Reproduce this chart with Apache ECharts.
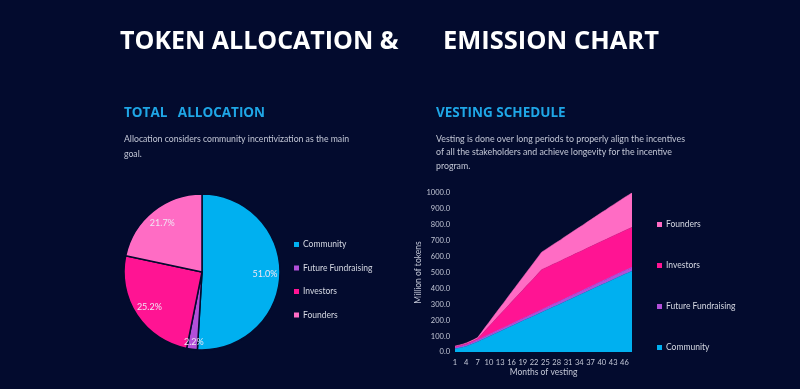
<!DOCTYPE html>
<html>
<head>
<meta charset="utf-8">
<script src="https://cdn.jsdelivr.net/npm/echarts@6/dist/echarts.min.js"></script>
<style>
html,body{margin:0;padding:0;background:#030b2e;}
#chart{width:800px;height:389px;}
</style>
</head>
<body>
<div id="chart"></div>
<script>
// ---- Data ----
const pieNames = ['Community', 'Future Fundraising', 'Investors', 'Founders'];
const pieValues = [51.0, 2.2, 25.2, 21.7];

const months = ['1','2','3','4','5','6','7','8','9','10','11','12','13','14','15','16','17','18','19','20','21','22','23','24','25','26','27','28','29','30','31','32','33','34','35','36','37','38','39','40','41','42','43','44','45','46','47','48'];
const community = [20,25,30,36,45,55,65,76,87,98,109,120,131,141,152,163,174,185,196,207,217,228,239,250,261,272,283,293,304,315,326,337,348,358,369,380,391,402,413,424,434,445,456,467,478,489,499,510];
const futureFundraising = [8,8,9,9,9,10,10,10,11,11,11,12,12,12,13,13,13,14,14,14,15,15,15,16,16,16,17,17,17,18,18,18,19,19,19,20,20,20,21,21,21,22,22,22,22,22,22,22];
const investors = [5,6,6,7,7,7,8,22,37,51,66,80,94,109,123,138,152,166,180,195,209,223,238,252,252,252,252,252,252,252,252,252,252,252,252,252,252,252,252,252,252,252,252,252,252,252,252,252];
const founders = [4,4,4,5,6,6,8,14,20,26,32,38,44,50,56,62,68,74,80,86,92,98,104,110,114,119,123,128,132,137,141,146,150,155,159,164,168,173,177,182,186,191,195,200,204,209,213,217];

const yTicks = {min: 0, max: 1000, interval: 100};

const colors = {
  'Community': '#00b0f0',
  'Future Fundraising': '#b24fd9',
  'Investors': '#ff1493',
  'Founders': '#ff6cc4'
};

const FONT = 'Lato, "Open Sans", sans-serif';
const chart = echarts.init(document.getElementById('chart'));

const pieData = pieNames.map((n, i) => ({name: n, value: pieValues[i], itemStyle: {color: colors[n]}}));

const option = {
  backgroundColor: '#030b2e',
  animation: false,
  textStyle: {fontFamily: FONT},
  graphic: [
    {type: 'text', left: 120, top: 29, style: {text: 'TOKEN ALLOCATION &', fill: '#ffffff', font: 'bold 25px "Open Sans", sans-serif'}},
    {type: 'text', left: 443, top: 29, style: {text: 'EMISSION CHART', fill: '#ffffff', font: 'bold 25.5px "Open Sans", sans-serif'}},
    {type: 'text', left: 124, top: 106, style: {text: 'TOTAL   ALLOCATION', fill: '#1fa6e6', font: 'bold 13.5px "Open Sans", sans-serif'}},
    {type: 'text', left: 436, top: 106, style: {text: 'VESTING SCHEDULE', fill: '#1fa6e6', font: 'bold 13.5px "Open Sans", sans-serif'}},
    {type: 'text', left: 124, top: 132, style: {text: 'Allocation considers community incentivization as the main\ngoal.', fill: '#c3c7d6', font: '8.7px Lato, sans-serif', lineHeight: 15}},
    {type: 'text', left: 436, top: 132, style: {text: 'Vesting is done over long periods to properly align the incentives\nof all the stakeholders and achieve longevity for the incentive\nprogram.', fill: '#c3c7d6', font: '8.8px Lato, sans-serif', lineHeight: 13.5}}
  ],
  legend: [
    {
      data: pieNames,
      orient: 'vertical',
      left: 289, top: 235,
      itemWidth: 5, itemHeight: 5, itemGap: 14.5,
      icon: 'rect',
      textStyle: {color: '#d5d8e2', fontSize: 8.5, fontFamily: FONT, padding: [0, 0, 0, -1]},
      selectedMode: false
    },
    {
      data: ['Founders', 'Investors', 'Future Fundraising', 'Community'],
      orient: 'vertical',
      left: 652, top: 215,
      itemWidth: 5, itemHeight: 5, itemGap: 32,
      icon: 'rect',
      textStyle: {color: '#d5d8e2', fontSize: 8.5, fontFamily: FONT, padding: [0, 0, 0, -1]},
      selectedMode: false
    }
  ],
  grid: {left: 455, right: 168, top: 193, bottom: 37, containLabel: false},
  xAxis: {
    type: 'category',
    data: months,
    boundaryGap: false,
    name: 'Months of vesting',
    nameLocation: 'middle',
    nameGap: 16,
    nameTextStyle: {color: '#c3c7d6', fontSize: 8.5, fontFamily: FONT},
    axisLine: {show: false},
    axisTick: {show: false},
    axisLabel: {interval: 2, color: '#c3c7d6', fontSize: 7.5, margin: 7, fontFamily: FONT},
    splitLine: {show: false}
  },
  yAxis: {
    type: 'value',
    min: yTicks.min, max: yTicks.max, interval: yTicks.interval,
    name: 'Million of tokens',
    nameLocation: 'middle',
    nameGap: 30,
    nameTextStyle: {color: '#c3c7d6', fontSize: 8.5, fontFamily: FONT},
    axisLine: {show: false},
    axisTick: {show: false},
    axisLabel: {color: '#c3c7d6', fontSize: 7.5, margin: 5, fontFamily: FONT, formatter: v => v.toFixed(1)},
    splitLine: {show: false}
  },
  series: [
    {
      type: 'pie',
      center: [202, 272],
      radius: [0, 78],
      startAngle: 90,
      clockwise: true,
      data: pieData,
      label: {show: false},
      labelLine: {show: false},
      itemStyle: {borderColor: '#030b2e', borderWidth: 1.5},
      emphasis: {disabled: true}
    },
    {
      type: 'pie',
      center: [202, 272],
      radius: [42, 78],
      startAngle: 90,
      clockwise: true,
      silent: true,
      data: pieNames.map((n, i) => ({name: n, value: pieValues[i],
        label: n === 'Future Fundraising' ? {offset: [0, 8]} : {}})),
      itemStyle: {color: 'rgba(0,0,0,0)', borderWidth: 0},
      label: {show: true, position: 'inside', color: '#f0e6f4', fontSize: 9, fontFamily: FONT,
        formatter: p => p.value.toFixed(1) + '%'},
      labelLine: {show: false},
      emphasis: {disabled: true}
    },
    {name: 'Community', type: 'line', stack: 'total', data: community, symbol: 'none',
      itemStyle: {color: colors['Community']}, lineStyle: {width: 0.5, color: colors['Community']},
      areaStyle: {color: colors['Community'], opacity: 1}},
    {name: 'Future Fundraising', type: 'line', stack: 'total', data: futureFundraising, symbol: 'none',
      itemStyle: {color: colors['Future Fundraising']}, lineStyle: {width: 1, color: colors['Future Fundraising']},
      areaStyle: {color: colors['Future Fundraising'], opacity: 1}},
    {name: 'Investors', type: 'line', stack: 'total', data: investors, symbol: 'none',
      itemStyle: {color: colors['Investors']}, lineStyle: {width: 0.5, color: colors['Investors']},
      areaStyle: {color: colors['Investors'], opacity: 1}},
    {name: 'Founders', type: 'line', stack: 'total', data: founders, symbol: 'none',
      itemStyle: {color: colors['Founders']}, lineStyle: {width: 0.5, color: colors['Founders']},
      areaStyle: {color: colors['Founders'], opacity: 1}}
  ]
};
chart.setOption(option);
</script>
</body>
</html>
